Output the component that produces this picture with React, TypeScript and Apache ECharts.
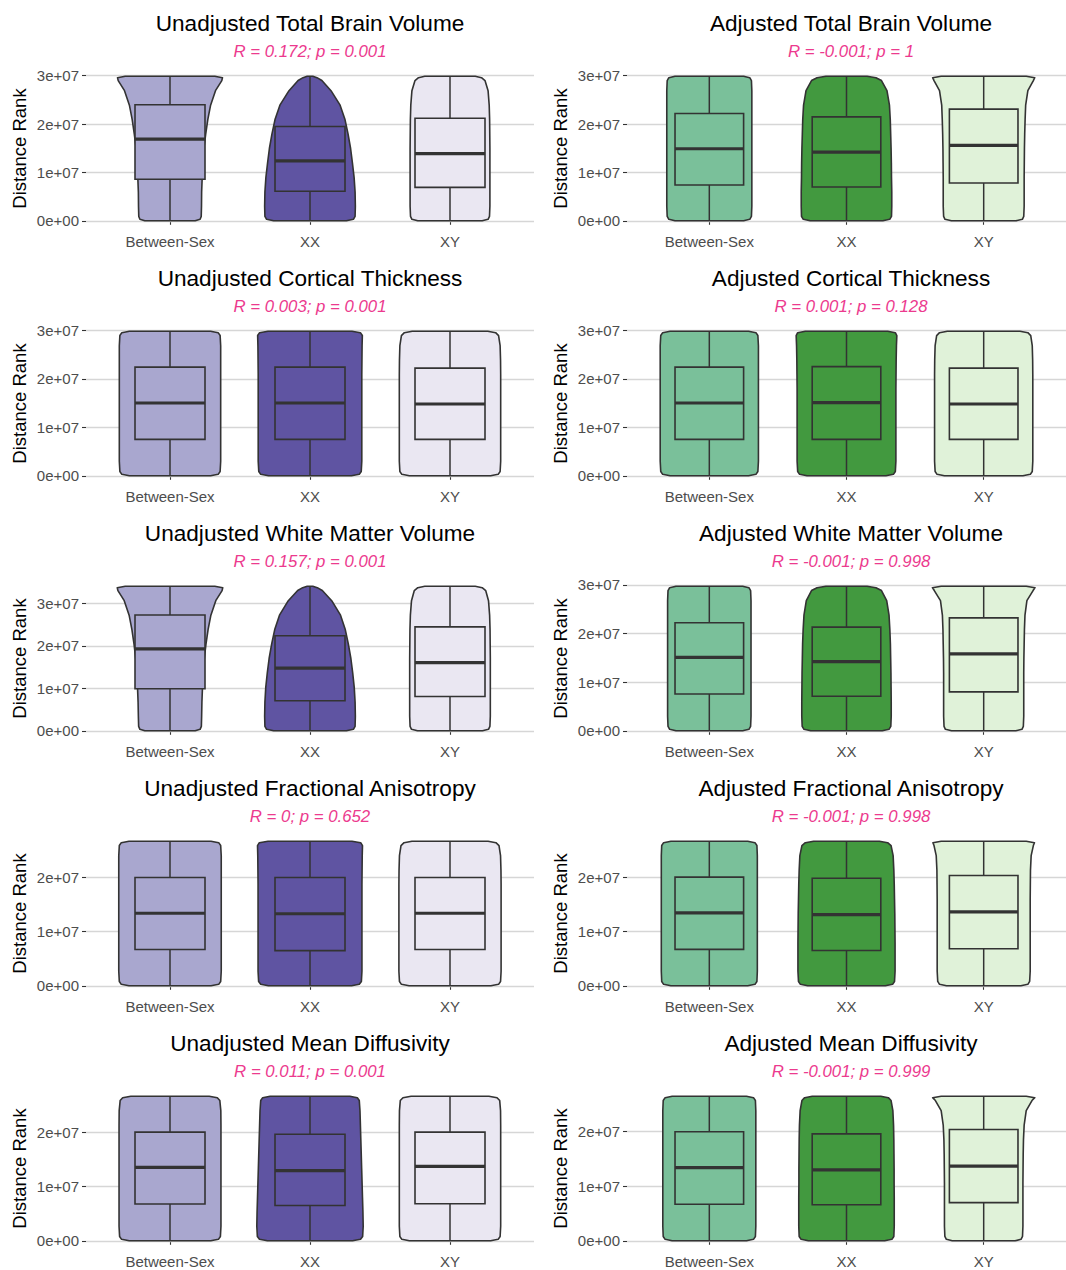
import React, { useEffect, useRef } from "react";
import * as echarts from "echarts";

// ---- data -------------------------------------------------------------
const groups = ["Between-Sex", "XX", "XY"];

const panelTitles = [
  "Unadjusted Total Brain Volume",
  "Adjusted Total Brain Volume",
  "Unadjusted Cortical Thickness",
  "Adjusted Cortical Thickness",
  "Unadjusted White Matter Volume",
  "Adjusted White Matter Volume",
  "Unadjusted Fractional Anisotropy",
  "Adjusted Fractional Anisotropy",
  "Unadjusted Mean Diffusivity",
  "Adjusted Mean Diffusivity",
];

const panelStats = [
  "R = 0.172; p = 0.001",
  "R = -0.001; p = 1",
  "R = 0.003; p = 0.001",
  "R = 0.001; p = 0.128",
  "R = 0.157; p = 0.001",
  "R = -0.001; p = 0.998",
  "R = 0; p = 0.652",
  "R = -0.001; p = 0.998",
  "R = 0.011; p = 0.001",
  "R = -0.001; p = 0.999",
];

// largest distance rank in each panel (smallest rank is 1)
const rankMin = 1;
const rankMax = [2.99e7, 2.99e7, 2.98e7, 2.98e7, 3.41e7, 2.97e7, 2.67e7, 2.66e7, 2.66e7, 2.65e7];

const yTickValues = [0, 1e7, 2e7, 3e7];

// box statistics per panel: [Between-Sex, XX, XY]
const lowerQuartile = [
  [8.6e6, 6.1e6, 6.9e6],
  [7.4e6, 7.0e6, 7.8e6],
  [7.5e6, 7.5e6, 7.5e6],
  [7.5e6, 7.5e6, 7.5e6],
  [9.9e6, 7.1e6, 8.1e6],
  [7.57e6, 7.08e6, 7.99e6],
  [6.7e6, 6.5e6, 6.7e6],
  [6.7e6, 6.5e6, 6.8e6],
  [6.77e6, 6.5e6, 6.8e6],
  [6.7e6, 6.6e6, 7.0e6],
];
const medianRank = [
  [1.69e7, 1.24e7, 1.39e7],
  [1.49e7, 1.42e7, 1.56e7],
  [1.5e7, 1.5e7, 1.48e7],
  [1.5e7, 1.51e7, 1.48e7],
  [1.93e7, 1.48e7, 1.61e7],
  [1.51e7, 1.42e7, 1.58e7],
  [1.34e7, 1.33e7, 1.34e7],
  [1.34e7, 1.31e7, 1.36e7],
  [1.35e7, 1.29e7, 1.37e7],
  [1.34e7, 1.3e7, 1.37e7],
];
const upperQuartile = [
  [2.4e7, 1.95e7, 2.12e7],
  [2.22e7, 2.15e7, 2.31e7],
  [2.24e7, 2.24e7, 2.22e7],
  [2.24e7, 2.25e7, 2.22e7],
  [2.73e7, 2.24e7, 2.45e7],
  [2.22e7, 2.13e7, 2.32e7],
  [2.0e7, 2.0e7, 2.0e7],
  [2.0e7, 1.98e7, 2.03e7],
  [2.0e7, 1.96e7, 2.0e7],
  [2.0e7, 1.96e7, 2.04e7],
];

// violin half-width (in category units) at these fractions of the rank range
const profileLevels = [0, 0.01, 0.03, 0.1, 0.2, 0.3, 0.4, 0.5, 0.6, 0.7, 0.8, 0.9, 0.97, 0.99, 1];

const violinTBVUnadj = [
  [0.18, 0.215, 0.223, 0.225, 0.226, 0.23, 0.235, 0.242, 0.255, 0.27, 0.29, 0.325, 0.37, 0.375, 0.32],
  [0.26, 0.31, 0.322, 0.324, 0.322, 0.315, 0.303, 0.29, 0.272, 0.25, 0.215, 0.15, 0.085, 0.05, 0.02],
  [0.23, 0.272, 0.282, 0.285, 0.285, 0.285, 0.285, 0.285, 0.284, 0.283, 0.28, 0.272, 0.25, 0.225, 0.18],
];
const violinTBVAdj = [
  [0.25, 0.295, 0.307, 0.31, 0.31, 0.31, 0.31, 0.31, 0.31, 0.31, 0.31, 0.31, 0.307, 0.295, 0.25],
  [0.265, 0.315, 0.328, 0.33, 0.33, 0.328, 0.327, 0.325, 0.322, 0.319, 0.313, 0.295, 0.255, 0.215, 0.15],
  [0.235, 0.282, 0.292, 0.295, 0.295, 0.295, 0.296, 0.297, 0.299, 0.302, 0.306, 0.322, 0.362, 0.372, 0.31],
];
const violinCTUnadj = [
  [0.29, 0.344, 0.358, 0.362, 0.362, 0.362, 0.362, 0.362, 0.362, 0.362, 0.362, 0.362, 0.358, 0.344, 0.29],
  [0.296, 0.352, 0.366, 0.37, 0.37, 0.37, 0.37, 0.37, 0.37, 0.37, 0.371, 0.372, 0.374, 0.36, 0.3],
  [0.29, 0.344, 0.358, 0.362, 0.362, 0.362, 0.362, 0.362, 0.362, 0.362, 0.361, 0.358, 0.347, 0.326, 0.27],
];
const violinCTAdj = [
  [0.286, 0.34, 0.354, 0.358, 0.358, 0.358, 0.358, 0.358, 0.358, 0.358, 0.358, 0.358, 0.354, 0.34, 0.286],
  [0.288, 0.342, 0.356, 0.36, 0.36, 0.36, 0.36, 0.36, 0.36, 0.361, 0.362, 0.364, 0.367, 0.356, 0.3],
  [0.286, 0.34, 0.354, 0.358, 0.358, 0.358, 0.358, 0.358, 0.358, 0.358, 0.357, 0.354, 0.343, 0.322, 0.265],
];
const violinWMVUnadj = [
  [0.18, 0.215, 0.224, 0.226, 0.228, 0.232, 0.237, 0.245, 0.257, 0.272, 0.292, 0.327, 0.372, 0.377, 0.32],
  [0.26, 0.31, 0.322, 0.324, 0.322, 0.316, 0.305, 0.292, 0.274, 0.252, 0.218, 0.155, 0.088, 0.052, 0.02],
  [0.232, 0.275, 0.285, 0.288, 0.288, 0.288, 0.288, 0.288, 0.287, 0.286, 0.283, 0.275, 0.255, 0.23, 0.18],
];
const violinWMVAdj = [
  [0.243, 0.289, 0.301, 0.304, 0.304, 0.304, 0.304, 0.304, 0.304, 0.304, 0.304, 0.304, 0.301, 0.289, 0.243],
  [0.261, 0.31, 0.323, 0.326, 0.326, 0.325, 0.324, 0.322, 0.32, 0.316, 0.31, 0.293, 0.255, 0.215, 0.15],
  [0.234, 0.279, 0.289, 0.292, 0.292, 0.292, 0.292, 0.293, 0.295, 0.297, 0.301, 0.315, 0.36, 0.374, 0.31],
];
const violinFAUnadj = [
  [0.293, 0.348, 0.362, 0.366, 0.366, 0.366, 0.366, 0.366, 0.366, 0.366, 0.366, 0.366, 0.362, 0.348, 0.293],
  [0.297, 0.352, 0.367, 0.371, 0.371, 0.371, 0.371, 0.371, 0.371, 0.371, 0.372, 0.373, 0.375, 0.362, 0.3],
  [0.292, 0.347, 0.361, 0.365, 0.365, 0.365, 0.365, 0.365, 0.365, 0.365, 0.364, 0.361, 0.35, 0.328, 0.272],
];
const violinFAAdj = [
  [0.28, 0.333, 0.347, 0.35, 0.35, 0.35, 0.35, 0.35, 0.35, 0.35, 0.35, 0.35, 0.347, 0.333, 0.28],
  [0.283, 0.336, 0.35, 0.354, 0.354, 0.354, 0.353, 0.352, 0.35, 0.348, 0.345, 0.34, 0.325, 0.3, 0.24],
  [0.271, 0.322, 0.335, 0.339, 0.339, 0.339, 0.339, 0.339, 0.339, 0.34, 0.341, 0.346, 0.362, 0.37, 0.31],
];
const violinMDUnadj = [
  [0.291, 0.346, 0.36, 0.364, 0.364, 0.364, 0.364, 0.364, 0.364, 0.364, 0.364, 0.363, 0.356, 0.338, 0.28],
  [0.304, 0.361, 0.376, 0.38, 0.378, 0.375, 0.372, 0.369, 0.366, 0.363, 0.36, 0.357, 0.352, 0.338, 0.285],
  [0.29, 0.344, 0.358, 0.362, 0.362, 0.362, 0.362, 0.362, 0.362, 0.362, 0.362, 0.361, 0.355, 0.336, 0.278],
];
const violinMDAdj = [
  [0.271, 0.322, 0.336, 0.339, 0.339, 0.339, 0.339, 0.339, 0.339, 0.339, 0.339, 0.339, 0.336, 0.322, 0.271],
  [0.278, 0.331, 0.345, 0.348, 0.348, 0.348, 0.347, 0.347, 0.346, 0.345, 0.343, 0.338, 0.325, 0.305, 0.25],
  [0.229, 0.272, 0.283, 0.286, 0.286, 0.286, 0.286, 0.287, 0.288, 0.29, 0.295, 0.31, 0.352, 0.372, 0.31],
];

const violinProfiles = [
  violinTBVUnadj,
  violinTBVAdj,
  violinCTUnadj,
  violinCTAdj,
  violinWMVUnadj,
  violinWMVAdj,
  violinFAUnadj,
  violinFAAdj,
  violinMDUnadj,
  violinMDAdj,
];

// ---- styling ------------------------------------------------------------
const purpleFills = ["#A9A7CF", "#5F54A2", "#EAE7F2"];
const greenFills = ["#7AC09A", "#42993F", "#E0F2D9"];
const outline = "#333333";
const fontFamily = "'Liberation Sans', Arial, Helvetica, sans-serif";

const gridLefts = [86, 627];
const gridWidth = 448;
const firstTop = 69;
const rowStep = 255;
const gridHeight = 159;
const boxHalf = 0.25;

function tickLabel(v: number): string {
  if (v === 0) return "0e+00";
  return `${Math.round(v / 1e7)}e+07`;
}

function buildOption() {
  const grid: any[] = [];
  const xAxis: any[] = [];
  const yAxis: any[] = [];
  const series: any[] = [];
  const graphic: any[] = [];

  panelTitles.forEach((title, p) => {
    const col = p % 2;
    const row = Math.floor(p / 2);
    const left = gridLefts[col];
    const top = firstTop + row * rowStep;
    const yMax = rankMax[p];
    const axisMin = -0.05 * yMax;
    const axisMax = 1.05 * yMax;
    const ticks = yTickValues.filter((v) => v <= axisMax);
    const fills = col === 0 ? purpleFills : greenFills;
    const profiles = violinProfiles[p];

    grid.push({ left, top, width: gridWidth, height: gridHeight, containLabel: false });

    xAxis.push({
      gridIndex: p,
      type: "value",
      min: 0.4,
      max: 3.6,
      axisLine: { show: false },
      splitLine: { show: false },
      axisTick: {
        show: true,
        length: 4,
        customValues: [1, 2, 3],
        lineStyle: { color: "#333333", width: 1.1 },
      },
      axisLabel: {
        show: true,
        customValues: [1, 2, 3],
        formatter: (v: number) => groups[Math.round(v) - 1] ?? "",
        margin: 6,
        fontSize: 15,
        color: "#4D4D4D",
        fontFamily,
      },
    });

    yAxis.push({
      gridIndex: p,
      type: "value",
      min: axisMin,
      max: axisMax,
      axisLine: { show: false },
      splitLine: { show: false },
      axisTick: {
        show: true,
        length: 4,
        customValues: ticks,
        lineStyle: { color: "#333333", width: 1.1 },
      },
      axisLabel: {
        show: true,
        customValues: ticks,
        formatter: (v: number) => tickLabel(v),
        margin: 7,
        fontSize: 15,
        color: "#4D4D4D",
        fontFamily,
      },
    });

    // horizontal grid lines at the major breaks
    series.push({
      type: "line",
      xAxisIndex: p,
      yAxisIndex: p,
      data: [],
      z: 1,
      silent: true,
      markLine: {
        silent: true,
        symbol: "none",
        animation: false,
        label: { show: false },
        lineStyle: { color: "#D6D6D6", width: 1.4, type: "solid" },
        data: ticks.map((v) => ({ yAxis: v })),
      },
    });

    series.push({
      type: "custom",
      xAxisIndex: p,
      yAxisIndex: p,
      z: 5,
      clip: false,
      encode: { x: 0, y: [1, 2, 3, 4, 5] },
      data: groups.map((_, g) => [
        g + 1,
        rankMin,
        lowerQuartile[p][g],
        medianRank[p][g],
        upperQuartile[p][g],
        yMax,
      ]),
      renderItem: (params: any, api: any) => {
        const g = params.dataIndex;
        const x = api.value(0);
        const lo = api.value(1);
        const qa = api.value(2);
        const md = api.value(3);
        const qb = api.value(4);
        const hi = api.value(5);
        const prof = profiles[g];
        const rightSide: number[][] = [];
        const leftSide: number[][] = [];
        profileLevels.forEach((lv, i) => {
          const y = lo + lv * (hi - lo);
          rightSide.push(api.coord([x + prof[i], y]));
          leftSide.unshift(api.coord([x - prof[i], y]));
        });
        const fill = fills[g];
        const cTop = api.coord([x, hi]);
        const cBot = api.coord([x, lo]);
        const bTL = api.coord([x - boxHalf, qb]);
        const bBR = api.coord([x + boxHalf, qa]);
        const mL = api.coord([x - boxHalf, md]);
        const mR = api.coord([x + boxHalf, md]);
        return {
          type: "group",
          children: [
            {
              type: "polygon",
              shape: { points: rightSide.concat(leftSide) },
              style: { fill, stroke: outline, lineWidth: 1.6, lineJoin: "round" },
            },
            {
              type: "line",
              shape: { x1: cTop[0], y1: cTop[1], x2: cTop[0], y2: bTL[1] },
              style: { stroke: outline, lineWidth: 1.5 },
            },
            {
              type: "line",
              shape: { x1: cBot[0], y1: bBR[1], x2: cBot[0], y2: cBot[1] },
              style: { stroke: outline, lineWidth: 1.5 },
            },
            {
              type: "rect",
              shape: { x: bTL[0], y: bTL[1], width: bBR[0] - bTL[0], height: bBR[1] - bTL[1] },
              style: { fill, stroke: outline, lineWidth: 1.6 },
            },
            {
              type: "line",
              shape: { x1: mL[0], y1: mL[1], x2: mR[0], y2: mR[1] },
              style: { stroke: outline, lineWidth: 3.2 },
            },
          ],
        };
      },
    });

    const cx = left + gridWidth / 2;
    graphic.push({
      type: "text",
      x: cx,
      y: top - 46,
      silent: true,
      style: {
        text: title,
        fontSize: 22.6,
        fontFamily,
        fill: "#000000",
        align: "center",
        verticalAlign: "middle",
        textAlign: "center",
        textVerticalAlign: "middle",
      },
    });
    graphic.push({
      type: "text",
      x: cx,
      y: top - 18,
      silent: true,
      style: {
        text: panelStats[p],
        fontSize: 16.8,
        fontStyle: "italic",
        fontFamily,
        fill: "#EC3A8E",
        align: "center",
        verticalAlign: "middle",
        textAlign: "center",
        textVerticalAlign: "middle",
      },
    });
    graphic.push({
      type: "text",
      x: left - 67,
      y: top + gridHeight / 2,
      rotation: Math.PI / 2,
      silent: true,
      style: {
        text: "Distance Rank",
        fontSize: 18.5,
        fontFamily,
        fill: "#000000",
        align: "center",
        verticalAlign: "middle",
        textAlign: "center",
        textVerticalAlign: "middle",
      },
    });
  });

  return {
    animation: false,
    backgroundColor: "#FFFFFF",
    grid,
    xAxis,
    yAxis,
    series,
    graphic,
  };
}

export default function App() {
  const ref = useRef<HTMLDivElement | null>(null);

  useEffect(() => {
    if (!ref.current) return;
    const chart = echarts.init(ref.current, undefined, { renderer: "svg" });
    chart.setOption(buildOption() as any);
    return () => {
      chart.dispose();
    };
  }, []);

  return (
    <div
      ref={ref}
      style={{ position: "absolute", left: 0, top: 0, width: 1066, height: 1270, background: "#FFFFFF" }}
    />
  );
}
